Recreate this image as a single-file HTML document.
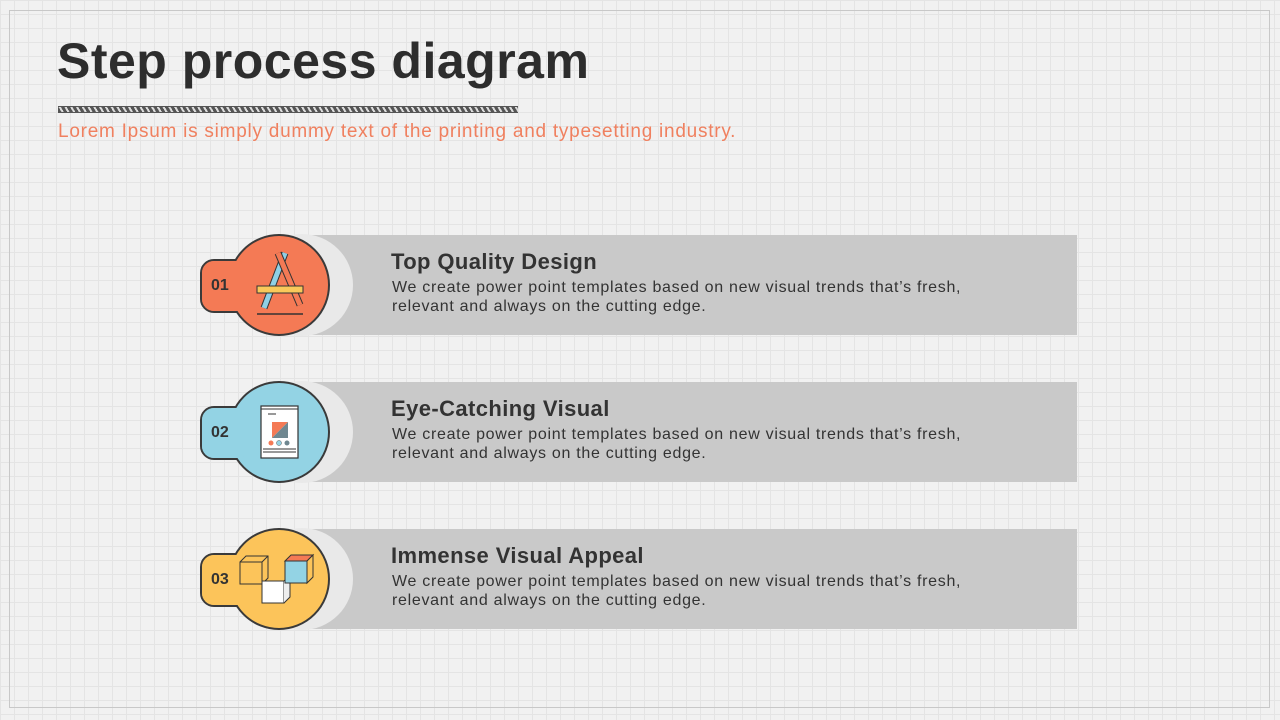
<!DOCTYPE html>
<html><head><meta charset="utf-8"><style>
html,body{margin:0;padding:0}
body{width:1280px;height:720px;overflow:hidden;background:#f1f1f1;font-family:"Liberation Sans",sans-serif;position:relative;
background-image:linear-gradient(#e4e4e4 1px,transparent 1px),linear-gradient(90deg,#e4e4e4 1px,transparent 1px);background-size:14px 14px}
.frame{position:absolute;left:9px;top:10px;width:1259px;height:696px;border:1px solid #c8c8c8}
h1{position:absolute;left:57px;top:32px;margin:0;font-size:50px;font-weight:bold;color:#2d2d2d;letter-spacing:0.5px}
.rope{position:absolute;left:58px;top:106px;width:460px;height:7px;background:repeating-linear-gradient(60deg,#555 0 3px,#ddd 3px 5px);border-top:1px solid #555;border-bottom:1px solid #555;box-sizing:border-box}
.sub{position:absolute;left:58px;top:121px;font-size:19px;letter-spacing:0.75px;color:#f0805f;white-space:nowrap}
.t{position:absolute;left:391px;font-size:22px;letter-spacing:0.4px;font-weight:bold;color:#333;white-space:nowrap}
.d{position:absolute;left:392px;font-size:16px;letter-spacing:0.7px;color:#333;line-height:19px;white-space:nowrap}
</style></head><body>
<div class="frame"></div>
<h1>Step process diagram</h1>
<div class="rope"></div>
<div class="sub">Lorem Ipsum is simply dummy text of the printing and typesetting industry.</div>
<svg width="1280" height="720" style="position:absolute;left:0;top:0">
<g>
<rect x="310" y="235" width="767" height="100" fill="#c9c9c9"/>
<circle cx="302" cy="285" r="51" fill="#e9e9e9"/>
<rect x="201" y="260" width="50" height="52" rx="13" fill="#f47a55" stroke="#3a3a3a" stroke-width="2"/>
<circle cx="279" cy="285" r="50" fill="#f47a55" stroke="#3a3a3a" stroke-width="2"/>
<rect x="202" y="261" width="48" height="50" rx="12" fill="#f47a55"/>
<text x="211" y="290" font-size="16" font-weight="bold" fill="#333" font-family="Liberation Sans">01</text>
<line x1="264" y1="308" x2="285" y2="253" stroke="#333" stroke-width="7"/><line x1="264" y1="308" x2="285" y2="253" stroke="#8fd0e6" stroke-width="5"/>
<line x1="300" y1="305" x2="278" y2="253" stroke="#333" stroke-width="7"/><line x1="300" y1="305" x2="278" y2="253" stroke="#f47a55" stroke-width="5"/>
<rect x="257" y="286" width="46" height="7" fill="#f9c95a" stroke="#333" stroke-width="1"/>
<line x1="257" y1="314" x2="303" y2="314" stroke="#333" stroke-width="1.5"/>
</g>
<g transform="translate(0,147)">
<rect x="310" y="235" width="767" height="100" fill="#c9c9c9"/>
<circle cx="302" cy="285" r="51" fill="#e9e9e9"/>
<rect x="201" y="260" width="50" height="52" rx="13" fill="#93d3e4" stroke="#3a3a3a" stroke-width="2"/>
<circle cx="279" cy="285" r="50" fill="#93d3e4" stroke="#3a3a3a" stroke-width="2"/>
<rect x="202" y="261" width="48" height="50" rx="12" fill="#93d3e4"/>
<text x="211" y="290" font-size="16" font-weight="bold" fill="#333" font-family="Liberation Sans">02</text>
<rect x="261" y="259" width="37" height="52" fill="#fff" stroke="#333" stroke-width="1.2"/>
<line x1="261" y1="262" x2="298" y2="262" stroke="#333"/>
<line x1="268" y1="267" x2="276" y2="267" stroke="#333"/>
<polygon points="272,275 288,275 272,291" fill="#f47a55"/><polygon points="288,275 288,291 272,291" fill="#6f8790"/>
<circle cx="271" cy="296" r="2.5" fill="#f47a55"/><circle cx="279" cy="296" r="2.5" fill="#93d3e4" stroke="#555" stroke-width=".5"/><circle cx="287" cy="296" r="2.5" fill="#6f8790"/>
<line x1="263" y1="302" x2="296" y2="302" stroke="#333"/><line x1="263" y1="305" x2="296" y2="305" stroke="#333"/>
</g>
<g transform="translate(0,294)">
<rect x="310" y="235" width="767" height="100" fill="#c9c9c9"/>
<circle cx="302" cy="285" r="51" fill="#e9e9e9"/>
<rect x="201" y="260" width="50" height="52" rx="13" fill="#fcc45a" stroke="#3a3a3a" stroke-width="2"/>
<circle cx="279" cy="285" r="50" fill="#fcc45a" stroke="#3a3a3a" stroke-width="2"/>
<rect x="202" y="261" width="48" height="50" rx="12" fill="#fcc45a"/>
<text x="211" y="290" font-size="16" font-weight="bold" fill="#333" font-family="Liberation Sans">03</text>
<rect x="240" y="268" width="22" height="22" fill="none" stroke="#333"/>
<polyline points="240,268 246,262 268,262 268,284 262,290" fill="none" stroke="#333"/>
<line x1="262" y1="268" x2="268" y2="262" stroke="#333"/>
<rect x="262" y="287" width="22" height="22" fill="#fff" stroke="#333"/>
<polyline points="284,287 290,281 290,303 284,309" fill="#eee" stroke="#333"/>
<rect x="285" y="267" width="22" height="22" fill="#93d3e4" stroke="#333"/>
<polygon points="285,267 291,261 313,261 307,267" fill="#f47a55" stroke="#333"/>
<polygon points="307,267 313,261 313,283 307,289" fill="#fcc45a" stroke="#333"/>
</g>
</svg>
<div class="t" style="top:249px">Top Quality Design</div>
<div class="d" style="top:278px">We create power point templates based on new visual trends that’s fresh,<br>relevant and always on the cutting edge.</div>
<div class="t" style="top:396px">Eye-Catching Visual</div>
<div class="d" style="top:425px">We create power point templates based on new visual trends that’s fresh,<br>relevant and always on the cutting edge.</div>
<div class="t" style="top:543px">Immense Visual Appeal</div>
<div class="d" style="top:572px">We create power point templates based on new visual trends that’s fresh,<br>relevant and always on the cutting edge.</div>
</body></html>
